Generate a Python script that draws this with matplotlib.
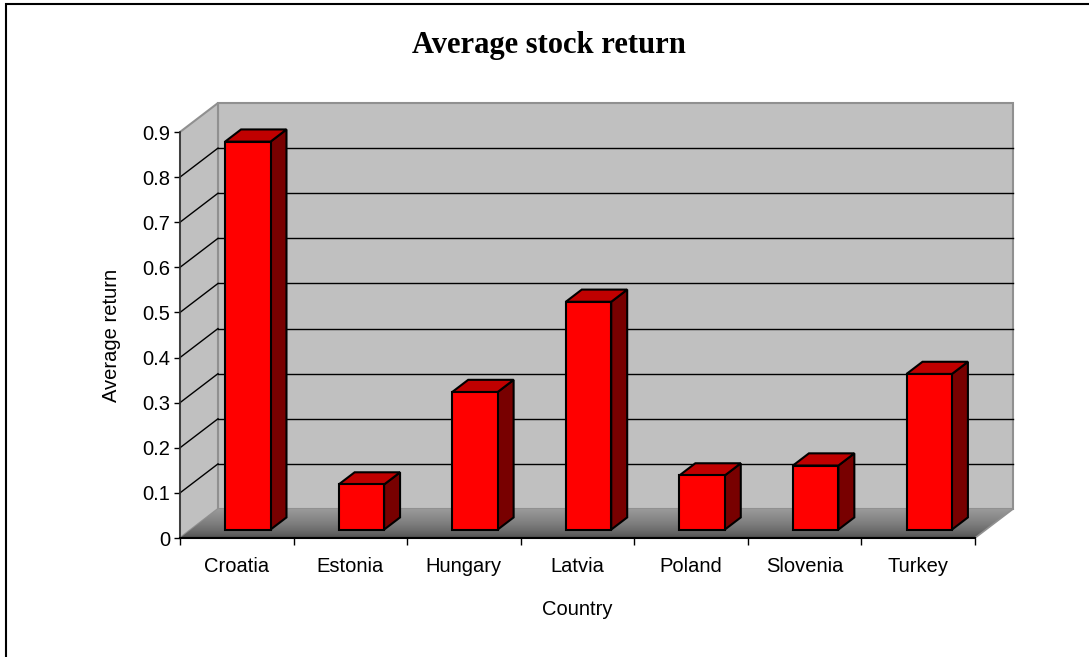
import numpy as np
import matplotlib
matplotlib.use("Agg")
import matplotlib.pyplot as plt
from matplotlib.patches import Polygon, Rectangle

# data
countries = ["Croatia", "Estonia", "Hungary", "Latvia", "Poland", "Slovenia", "Turkey"]
avg_return = [0.86, 0.10, 0.305, 0.505, 0.12, 0.142, 0.345]
yticks = [0, 0.1, 0.2, 0.3, 0.4, 0.5, 0.6, 0.7, 0.8, 0.9]
ytick_labels = ["0", "0.1", "0.2", "0.3", "0.4", "0.5", "0.6", "0.7", "0.8", "0.9"]

n = len(countries)
ymax = 0.9
DX = 38 / 795 * n      # depth offset in x data units
DY = 29 / 406 * ymax   # depth offset in y data units


def proj(x, y, d):
    # oblique projection: d = 0 front, d = 1 back wall
    return (x + d * DX, y + d * DY)


fig = plt.figure(figsize=(10.89, 6.57), dpi=100)
ax = fig.add_axes([180 / 1089, (657 - 538) / 657, 795 / 1089, 406 / 657])
ax.set_facecolor("none")

wall = "#c0c0c0"
edge = "#909090"

# back wall and side wall
ax.add_patch(Polygon([proj(0, 0, 1), proj(n, 0, 1), proj(n, ymax, 1), proj(0, ymax, 1)],
                     closed=True, facecolor=wall, edgecolor=edge, lw=1.5, clip_on=False, zorder=1))
ax.add_patch(Polygon([proj(0, 0, 0), proj(0, 0, 1), proj(0, ymax, 1), proj(0, ymax, 0)],
                     closed=True, facecolor=wall, edgecolor=edge, lw=1.5, clip_on=False, zorder=1))

# floor with gradient (dark at the front, lighter at the back)
floor = Polygon([proj(0, 0, 0), proj(n, 0, 0), proj(n, 0, 1), proj(0, 0, 1)],
                closed=True, facecolor="none", edgecolor="none", clip_on=False, zorder=2)
ax.add_patch(floor)
grad = np.linspace(0.0, 1.0, 64) ** 0.6
grad = (0.28 + 0.32 * grad).reshape(-1, 1)
img = ax.imshow(grad, cmap="gray", vmin=0, vmax=1, origin="lower", aspect="auto",
                extent=[0, n + DX, 0, DY], zorder=2, interpolation="bilinear")
img.set_clip_box(fig.bbox)
img.set_clip_path(floor)
ax.plot(*zip(proj(n, 0, 0), proj(n, 0, 1)), color=edge, lw=1.2, clip_on=False, zorder=3)

# gridlines
for v in yticks[1:-1]:
    ax.plot(*zip(proj(0, v, 1), proj(n, v, 1)), color="black", lw=1, clip_on=False, zorder=3)
    ax.plot(*zip(proj(0, v, 0), proj(0, v, 1)), color="black", lw=1, clip_on=False, zorder=3)

# 3D bars
d0, d1 = 0.29, 0.71
for i, v in enumerate(avg_return):
    x0, x1 = i + 0.3, i + 0.7
    front = [proj(x0, 0, d0), proj(x1, 0, d0), proj(x1, v, d0), proj(x0, v, d0)]
    top = [proj(x0, v, d0), proj(x1, v, d0), proj(x1, v, d1), proj(x0, v, d1)]
    side = [proj(x1, 0, d0), proj(x1, 0, d1), proj(x1, v, d1), proj(x1, v, d0)]
    for pts, col in [(side, "#780000"), (top, "#c00000"), (front, "#ff0000")]:
        ax.add_patch(Polygon(pts, closed=True, facecolor=col, edgecolor="black",
                             lw=1.5, joinstyle="miter", clip_on=False, zorder=4))

ax.set_xlim(0, n)
ax.set_ylim(0, ymax)

for s in ["top", "right"]:
    ax.spines[s].set_visible(False)
ax.spines["left"].set_color("#303030")
ax.spines["left"].set_linewidth(1.2)
ax.spines["bottom"].set_linewidth(1.5)
ax.spines["left"].set_zorder(5)
ax.spines["bottom"].set_zorder(5)

ax.set_yticks(yticks)
ax.set_yticklabels(ytick_labels)
ax.set_xticks(np.arange(n) + 0.5)
ax.set_xticklabels(countries)
ax.set_xticks(np.arange(n + 1), minor=True)
ax.tick_params(axis="y", direction="out", length=4, width=1, pad=3, labelsize=14.5)
ax.tick_params(axis="x", which="major", length=0, pad=14, labelsize=14.5)
ax.tick_params(axis="x", which="minor", direction="out", length=5, width=1)

ax.set_ylabel("Average return", fontsize=14.5, labelpad=15)
ax.set_xlabel("Country", fontsize=14.5, labelpad=17)

fig.text(549 / 1089, 1 - 45 / 657, "Average stock return", ha="center", va="center",
         fontsize=22, fontweight="bold", family="Liberation Serif")

# chart border
fig.add_artist(Rectangle((6 / 1089, -0.1), 1.2, 1.1 - 4 / 657, transform=fig.transFigure,
                         facecolor="none", edgecolor="black", lw=1.5))

for t in ax.get_xticklabels() + ax.get_yticklabels():
    t.set_family("Liberation Sans")
ax.xaxis.label.set_family("Liberation Sans")
ax.yaxis.label.set_family("Liberation Sans")

fig.savefig("out.png", dpi=100)
